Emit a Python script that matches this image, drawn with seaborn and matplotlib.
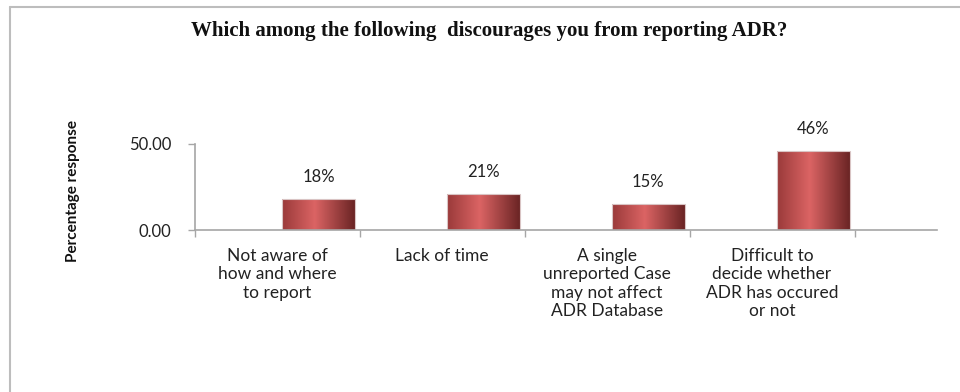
import numpy as np
import pandas as pd
import matplotlib
matplotlib.use("Agg")
import matplotlib.pyplot as plt
from matplotlib.lines import Line2D
from matplotlib.colors import LinearSegmentedColormap
from matplotlib.ticker import FixedLocator
import seaborn as sns

# Survey data
categories = [
    "Not aware of\nhow and where\nto report",
    "Lack of time",
    "A single\nunreported Case\nmay not affect\nADR Database",
    "Difficult to\ndecide whether\nADR has occured\nor not",
]
percent = [18, 21, 15, 46]
series_order = ["", "Percentage response"]
y_ticks = [0, 50]

df = pd.DataFrame({
    "category": categories,
    "value": percent,
    "series": [series_order[1]] * len(categories),
})

sns.set_theme(style="white")
plt.rcParams["font.family"] = ["Lato", "DejaVu Sans"]

fig = plt.figure(figsize=(9.6, 3.92), dpi=100)
ax = fig.add_axes([0.203, 0.413, 0.773, 0.220])

sns.barplot(
    data=df, x="category", y="value", hue="series", hue_order=series_order,
    order=categories, palette=["#c0504d", "#c0504d"], width=1.0, gap=0.12,
    dodge=True, legend=False, ax=ax, err_kws={"linewidth": 0},
)

# cylindrical shading across each bar
shade = LinearSegmentedColormap.from_list(
    "shade", [(0.0, "#9a3a3a"), (0.45, "#db6464"), (1.0, "#6a2424")]
)
grad = np.linspace(0, 1, 256).reshape(1, -1)
for patch in ax.patches:
    h = patch.get_height()
    if not np.isfinite(h) or h == 0:
        continue
    x0, y0 = patch.get_x(), patch.get_y()
    w = patch.get_width()
    patch.set_facecolor("none")
    patch.set_edgecolor("#d9c4c4")
    patch.set_linewidth(0.8)
    im = ax.imshow(grad, cmap=shade, aspect="auto",
                   extent=(x0, x0 + w, y0, y0 + h), zorder=patch.get_zorder() - 0.1)
    im.set_clip_path(patch)

for cont in ax.containers:
    ax.bar_label(cont, fmt="%.0f%%", padding=10, fontsize=12, color="#222222")

ax.set_xlim(-0.5, 4.0)
ax.set_ylim(0, 50)
ax.set_yticks(y_ticks)
ax.set_yticklabels([f"{v:.2f}" for v in y_ticks], fontsize=12, color="#222222")
ax.set_xlabel("")
ax.set_ylabel("Percentage response", fontsize=11, fontweight="bold",
              color="#111111")
ax.yaxis.set_label_coords(-0.155, 0.45)

ax.set_xticks(range(len(categories)))
ax.set_xticklabels(categories, fontsize=12.5, color="#222222", linespacing=1.17,
                   va="top")
ax.xaxis.set_minor_locator(FixedLocator([i - 0.5 for i in range(len(categories) + 1)]))
ax.tick_params(axis="x", which="major", length=0, pad=13)
ax.tick_params(axis="x", which="minor", length=5, color="#a6a6a6", width=1,
               direction="out", bottom=True)
ax.tick_params(axis="y", length=5, color="#a6a6a6", width=1, direction="out",
               left=True, pad=12)

for side in ("top", "right"):
    ax.spines[side].set_visible(False)
for side in ("left", "bottom"):
    ax.spines[side].set_color("#a6a6a6")
    ax.spines[side].set_linewidth(1.2)

fig.text(0.51, 0.922, "Which among the following  discourages you from reporting ADR?",
         ha="center", va="center", fontsize=15, fontweight="bold",
         family=["Liberation Serif", "DejaVu Serif"], color="#111111")

# chart frame
fig.add_artist(Line2D([10 / 960, 1], [1 - 7 / 392, 1 - 7 / 392],
                      transform=fig.transFigure, color="#bdbdbd", linewidth=1.5))
fig.add_artist(Line2D([10 / 960, 10 / 960], [0, 1 - 7 / 392],
                      transform=fig.transFigure, color="#bdbdbd", linewidth=1.5))

fig.savefig("out.png", dpi=100, facecolor="white")
